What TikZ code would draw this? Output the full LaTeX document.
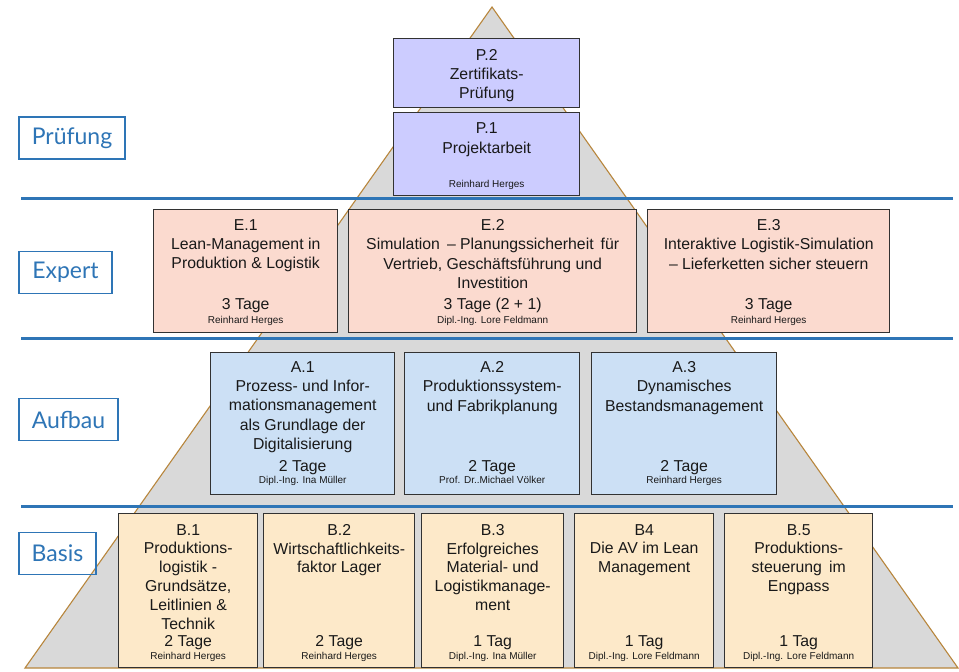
\documentclass[tikz,border=0pt]{standalone}
\usepackage{fontspec}
\setmainfont{Liberation Sans}
\newfontfamily\lblfont{Lato}
\definecolor{sepblue}{RGB}{46,117,182}
\definecolor{tribrown}{RGB}{184,134,60}
\definecolor{trigray}{RGB}{217,217,217}
\definecolor{pfill}{RGB}{204,204,255}
\definecolor{efill}{RGB}{251,218,207}
\definecolor{afill}{RGB}{204,224,245}
\definecolor{bfill}{RGB}{253,233,201}
\definecolor{boxline}{RGB}{50,50,50}
\definecolor{txt}{RGB}{25,25,25}
\tikzset{
  tri/.style={fill=trigray, draw=tribrown, line width=1.1pt, line join=miter},
  sepline/.style={draw=sepblue, line width=3.2pt},
  lbl/.style={draw=sepblue, line width=1.1pt, text=sepblue, inner sep=0pt, minimum height=42pt, font={\lblfont\fontsize{23}{26}\selectfont}},
  cbox/.style={draw=boxline, line width=1.4pt, inner sep=0pt, anchor=north west},
  ttl/.style={anchor=north, inner sep=0pt, align=center, text=txt, font={\fontsize{15.8}{19.2}\selectfont}},
  ttlb/.style={ttl, font={\fontsize{15.8}{18.8}\selectfont}},
  tage/.style={anchor=base, inner sep=0pt, text=txt, font={\fontsize{15.8}{19}\selectfont}},
  auth/.style={anchor=base, inner sep=0pt, text=txt, font={\fontsize{10}{12}\selectfont}}
}
\begin{document}
\begin{tikzpicture}[x=1pt,y=-1pt]
\useasboundingbox (0,0) rectangle (959,672);
\fill[white] (0,0) rectangle (959,672);
% pyramid
\coordinate (apex) at (492,7);
\coordinate (bl) at (25,668);
\coordinate (br) at (958,668);
\draw[tri] (apex) -- (br) -- (bl) -- cycle;
% separators
\coordinate (s1a) at (21,198.5); \coordinate (s1b) at (953,198.5);
\coordinate (s2a) at (21,338.5); \coordinate (s2b) at (953,338.5);
\coordinate (s3a) at (21,506.5); \coordinate (s3b) at (953,506.5);
\draw[sepline] (s1a) -- (s1b);
\draw[sepline] (s2a) -- (s2b);
\draw[sepline] (s3a) -- (s3b);
% level labels
\node[lbl, minimum width=106pt] (lp) at (72,138) {Prüfung};
\node[lbl, minimum width=93pt] (le) at (65.5,272.5) {Expert};
\node[lbl, minimum width=99pt] (la) at (68.5,419.5) {Aufbau};
\node[lbl, minimum width=77pt] (lb) at (57.5,553.5) {Basis};
% Pruefung
\node[cbox, fill=pfill, minimum width=186pt, minimum height=69pt] (p2) at (393,38) {};
\node[ttl] (p2t) at ([yshift=-10.8pt]p2.north) {P.2\\Zertifikats-\\Prüfung};
\node[cbox, fill=pfill, minimum width=186pt, minimum height=83pt] (p1) at (393,112) {};
\node[ttl] (p1t) at ([yshift=-10.8pt]p1.north) {P.1\\Projektarbeit};
\node[auth] (p1a) at ([yshift=9.3pt]p1.south) {Reinhard Herges};
% Expert
\node[cbox, fill=efill, minimum width=184pt, minimum height=123pt] (e1) at (153,209) {};
\node[ttl] (e1t) at ([yshift=-10.4pt]e1.north) {E.1\\Lean-Management in\\Produktion \& Logistik};
\node[tage] (e1d) at ([yshift=24.3pt]e1.south) {3 Tage};
\node[auth] (e1a) at ([yshift=10.2pt]e1.south) {Reinhard Herges};
\node[cbox, fill=efill, minimum width=288pt, minimum height=123pt] (e2) at (348,209) {};
\node[ttl] (e2t) at ([yshift=-10.4pt]e2.north) {E.2\\Simulation \,– Planungssicherheit \,für\\Vertrieb, Geschäftsführung und\\Investition};
\node[tage] (e2d) at ([yshift=24.3pt]e2.south) {3 Tage (2 + 1)};
\node[auth] (e2a) at ([yshift=10.2pt]e2.south) {Dipl.-Ing. Lore Feldmann};
\node[cbox, fill=efill, minimum width=242pt, minimum height=123pt] (e3) at (647,209) {};
\node[ttl] (e3t) at ([yshift=-10.4pt]e3.north) {E.3\\Interaktive Logistik-Simulation\\– Lieferketten sicher steuern};
\node[tage] (e3d) at ([yshift=24.3pt]e3.south) {3 Tage};
\node[auth] (e3a) at ([yshift=10.2pt]e3.south) {Reinhard Herges};
% Aufbau
\node[cbox, fill=afill, minimum width=184pt, minimum height=142pt] (a1) at (210,352) {};
\node[ttl] (a1t) at ([yshift=-9.4pt]a1.north) {A.1\\Prozess- und Infor-\\mationsmanagement\\als Grundlage der\\Digitalisierung};
\node[tage] (a1d) at ([yshift=24.3pt]a1.south) {2 Tage};
\node[auth] (a1a) at ([yshift=12.4pt]a1.south) {Dipl.-Ing. Ina Müller};
\node[cbox, fill=afill, minimum width=175pt, minimum height=142pt] (a2) at (404,352) {};
\node[ttl] (a2t) at ([yshift=-9.4pt]a2.north) {A.2\\Produktionssystem-\\und Fabrikplanung};
\node[tage] (a2d) at ([yshift=24.3pt]a2.south) {2 Tage};
\node[auth] (a2a) at ([yshift=12.4pt]a2.south) {Prof. Dr..Michael Völker};
\node[cbox, fill=afill, minimum width=185pt, minimum height=142pt] (a3) at (591,352) {};
\node[ttl] (a3t) at ([yshift=-9.4pt]a3.north) {A.3\\Dynamisches\\Bestandsmanagement};
\node[tage] (a3d) at ([yshift=24.3pt]a3.south) {2 Tage};
\node[auth] (a3a) at ([yshift=12.4pt]a3.south) {Reinhard Herges};
% Basis
\node[cbox, fill=bfill, minimum width=139pt, minimum height=154pt] (b1) at (118,513) {};
\node[ttlb] (b1t) at ([yshift=-11pt]b1.north) {B.1\\Produktions-\\logistik -\\Grundsätze,\\Leitlinien \&\\Technik};
\node[tage] (b1d) at ([yshift=22.2pt]b1.south) {2 Tage};
\node[auth] (b1a) at ([yshift=9pt]b1.south) {Reinhard Herges};
\node[cbox, fill=bfill, minimum width=151pt, minimum height=154pt] (b2) at (263,513) {};
\node[ttlb] (b2t) at ([yshift=-11pt]b2.north) {B.2\\Wirtschaftlichkeits-\\faktor Lager};
\node[tage] (b2d) at ([yshift=22.2pt]b2.south) {2 Tage};
\node[auth] (b2a) at ([yshift=9pt]b2.south) {Reinhard Herges};
\node[cbox, fill=bfill, minimum width=142pt, minimum height=154pt] (b3) at (421,513) {};
\node[ttlb] (b3t) at ([yshift=-11pt]b3.north) {B.3\\Erfolgreiches\\Material- und\\Logistikmanage-\\ment};
\node[tage] (b3d) at ([yshift=22.2pt]b3.south) {1 Tag};
\node[auth] (b3a) at ([yshift=9pt]b3.south) {Dipl.-Ing. Ina Müller};
\node[cbox, fill=bfill, minimum width=139pt, minimum height=154pt] (b4) at (574,513) {};
\node[ttlb] (b4t) at ([yshift=-11pt]b4.north) {B4\\Die AV im Lean\\Management};
\node[tage] (b4d) at ([yshift=22.2pt]b4.south) {1 Tag};
\node[auth] (b4a) at ([yshift=9pt]b4.south) {Dipl.-Ing. Lore Feldmann};
\node[cbox, fill=bfill, minimum width=148pt, minimum height=154pt] (b5) at (724,513) {};
\node[ttlb] (b5t) at ([yshift=-11pt]b5.north) {B.5\\Produktions-\\steuerung \,im\\Engpass};
\node[tage] (b5d) at ([yshift=22.2pt]b5.south) {1 Tag};
\node[auth] (b5a) at ([yshift=9pt]b5.south) {Dipl.-Ing. Lore Feldmann};
\end{tikzpicture}
\end{document}
